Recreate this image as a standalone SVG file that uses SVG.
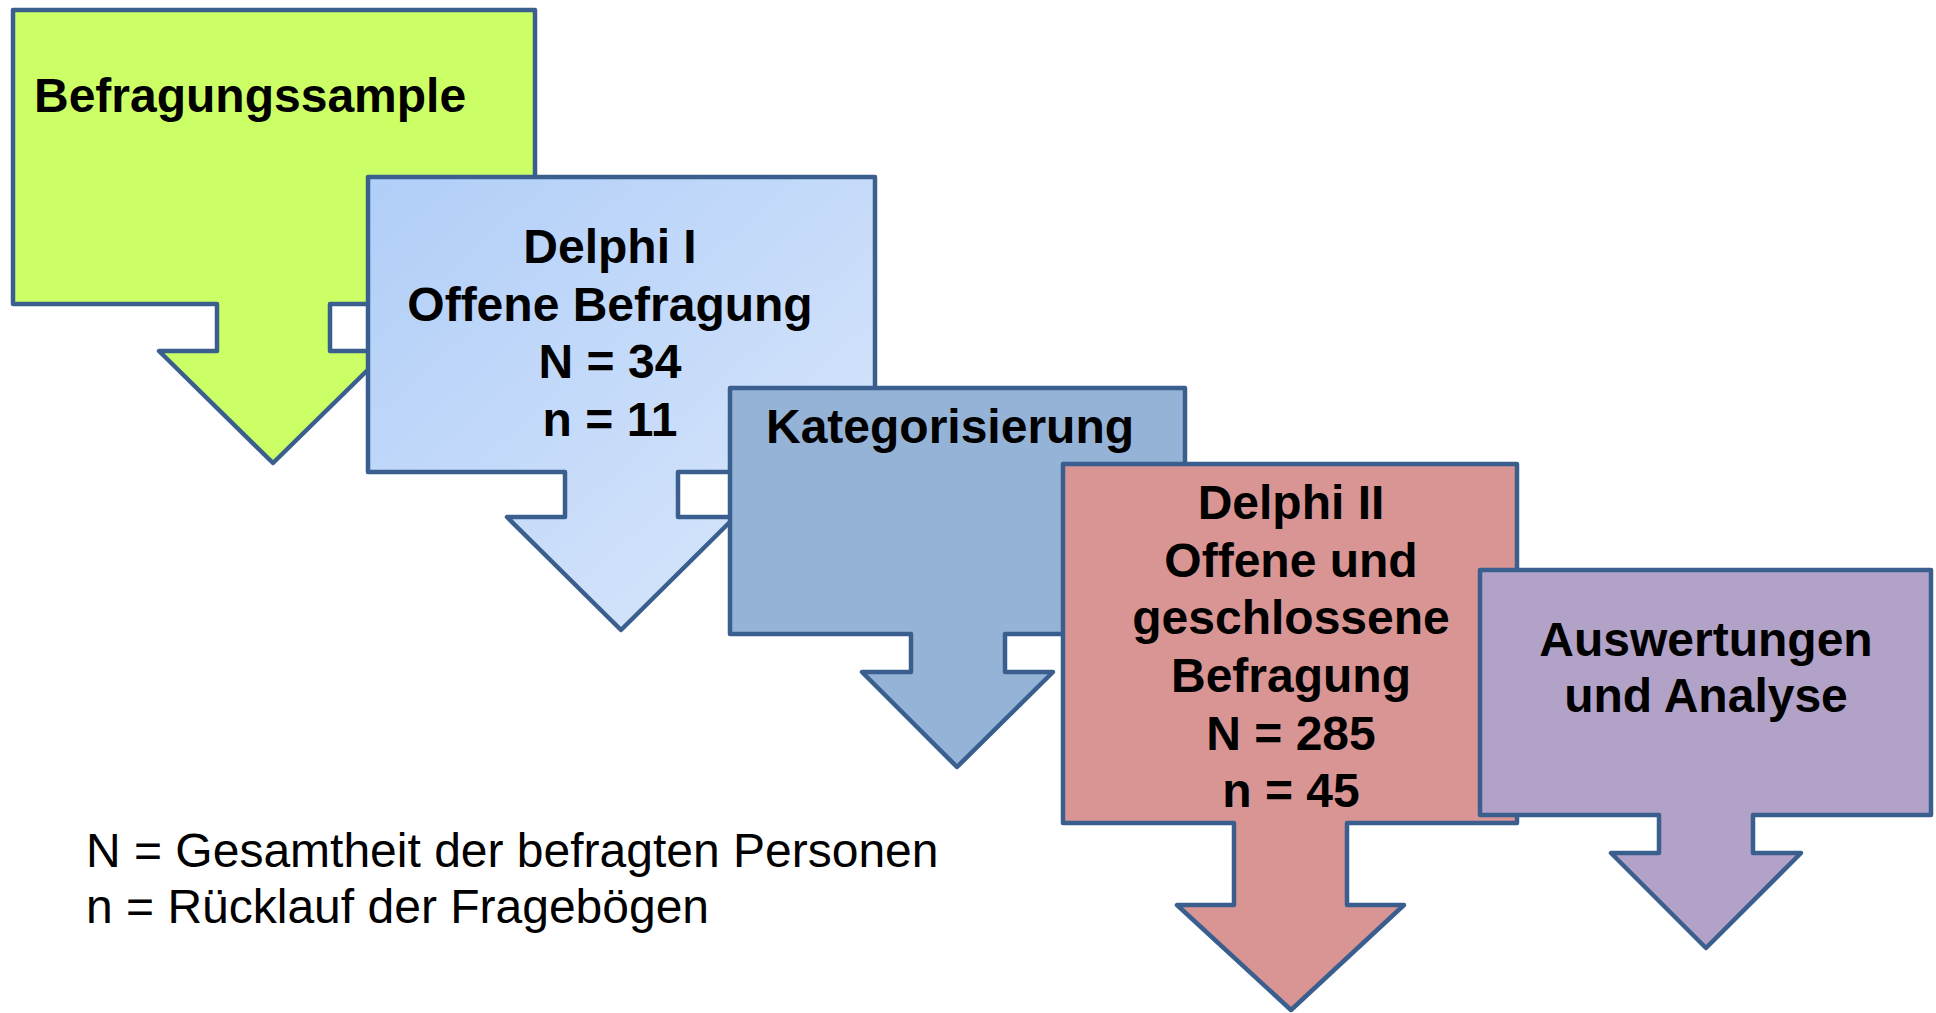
<svg xmlns="http://www.w3.org/2000/svg" width="1936" height="1013" viewBox="0 0 1936 1013">
<style>
.shape{stroke:#3A5F8E;stroke-width:4.5;stroke-linejoin:round}
.t{font-family:"Liberation Sans",Arial,sans-serif;font-weight:bold;font-size:48px;fill:#000;text-anchor:middle}
.leg{font-family:"Liberation Sans",Arial,sans-serif;font-size:48px;fill:#000}
</style>
<defs>
<linearGradient id="g1" x1="0" y1="0" x2="1" y2="1">
<stop offset="0" stop-color="#B0CEF8"/>
<stop offset="1" stop-color="#DCE8FB"/>
</linearGradient>
</defs>
<rect width="1936" height="1013" fill="#fff"/>
<g id="befragungssample">
<path class="shape" fill="#CCFF66" d="M13,10 H535 V304 H330 V351 H387 L273,463 L159,351 H217 V304 H13 Z"/>
<text class="t" x="34" y="112" style="text-anchor:start">Befragungssample</text>
</g>
<g id="delphi1">
<path class="shape" fill="url(#g1)" d="M368,177 H875 V472 H678 V517 H735 L621,630 L507,517 H565 V472 H368 Z"/>
<text class="t" x="610" y="263">Delphi I</text>
<text class="t" x="610" y="321">Offene Befragung</text>
<text class="t" x="610" y="378">N = 34</text>
<text class="t" x="610" y="436">n = 11</text>
</g>
<g id="kategorisierung">
<path class="shape" fill="#95B3D7" d="M730,388 H1185 V634 H1005 V672 H1053 L957,767 L862,672 H911 V634 H730 Z"/>
<text class="t" x="950" y="443">Kategorisierung</text>
</g>
<g id="delphi2">
<path class="shape" fill="#D99594" d="M1063,464 H1517 V823 H1347 V905 H1404 L1291,1010 L1177,905 H1234 V823 H1063 Z"/>
<text class="t" x="1291" y="519">Delphi II</text>
<text class="t" x="1291" y="577">Offene und</text>
<text class="t" x="1291" y="634">geschlossene</text>
<text class="t" x="1291" y="692">Befragung</text>
<text class="t" x="1291" y="750">N = 285</text>
<text class="t" x="1291" y="807">n = 45</text>
</g>
<g id="auswertungen">
<path class="shape" fill="#B2A2C7" d="M1480,570 H1931 V815 H1753 V853 H1801 L1706,948 L1611,853 H1659 V815 H1480 Z"/>
<text class="t" x="1706" y="656">Auswertungen</text>
<text class="t" x="1706" y="712">und Analyse</text>
</g>
<g id="connectors"></g>
<g id="legend">
<text class="leg" x="86" y="867">N = Gesamtheit der befragten Personen</text>
<text class="leg" x="86" y="923">n = Rücklauf der Fragebögen</text>
</g>
</svg>
